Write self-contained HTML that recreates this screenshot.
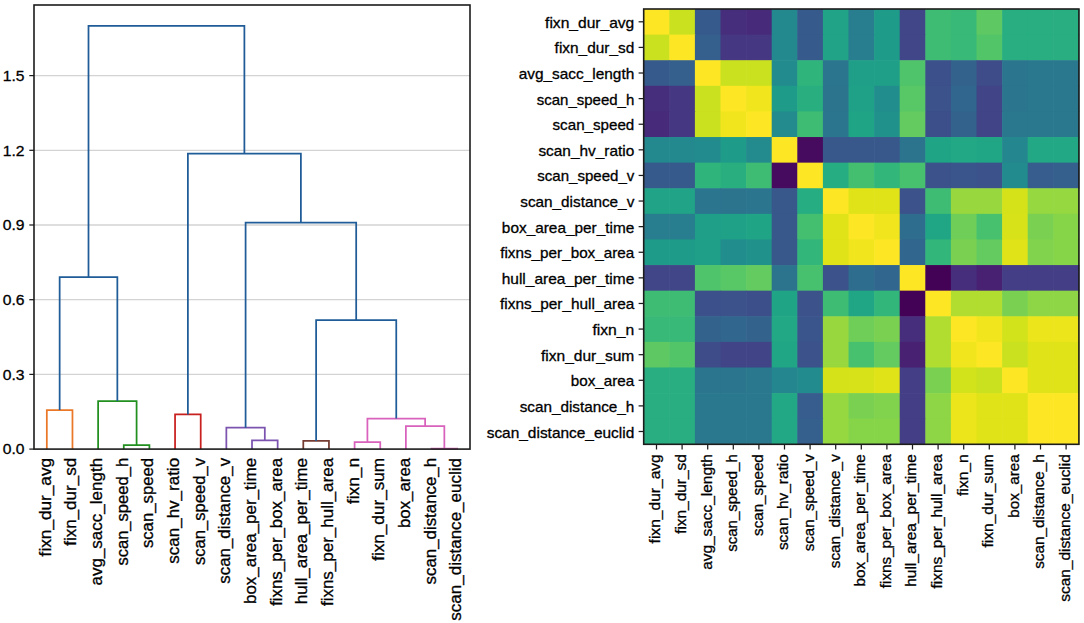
<!DOCTYPE html>
<html><head><meta charset="utf-8"><title>Dendrogram and correlation heatmap</title>
<style>
html,body{margin:0;padding:0;background:#fff;width:1084px;height:623px;overflow:hidden}
svg text{font-family:"Liberation Sans", sans-serif;fill:#000;stroke:#000;stroke-width:0.3px}
</style></head><body>
<svg width="1084" height="623" viewBox="0 0 1084 623" style="display:block">
<rect width="1084" height="623" fill="#fff"/>
<line x1="34.0" y1="374.40" x2="470.0" y2="374.40" stroke="#d3d3d3" stroke-width="1.3"/>
<line x1="34.0" y1="299.70" x2="470.0" y2="299.70" stroke="#d3d3d3" stroke-width="1.3"/>
<line x1="34.0" y1="225.00" x2="470.0" y2="225.00" stroke="#d3d3d3" stroke-width="1.3"/>
<line x1="34.0" y1="150.30" x2="470.0" y2="150.30" stroke="#d3d3d3" stroke-width="1.3"/>
<line x1="34.0" y1="75.60" x2="470.0" y2="75.60" stroke="#d3d3d3" stroke-width="1.3"/>
<polyline points="46.82,449.10 46.82,410.10 72.47,410.10 72.47,449.10" fill="none" stroke="#ea7828" stroke-width="1.75" stroke-linejoin="miter"/>
<polyline points="123.76,449.10 123.76,445.20 149.41,445.20 149.41,449.10" fill="none" stroke="#22901f" stroke-width="1.75" stroke-linejoin="miter"/>
<polyline points="98.12,449.10 98.12,401.00 136.59,401.00 136.59,445.20" fill="none" stroke="#22901f" stroke-width="1.75" stroke-linejoin="miter"/>
<polyline points="175.06,449.10 175.06,414.40 200.71,414.40 200.71,449.10" fill="none" stroke="#c8201f" stroke-width="1.75" stroke-linejoin="miter"/>
<polyline points="252.00,449.10 252.00,440.40 277.65,440.40 277.65,449.10" fill="none" stroke="#7c54b0" stroke-width="1.75" stroke-linejoin="miter"/>
<polyline points="226.35,449.10 226.35,427.70 264.82,427.70 264.82,440.40" fill="none" stroke="#7c54b0" stroke-width="1.75" stroke-linejoin="miter"/>
<polyline points="303.29,449.10 303.29,440.90 328.94,440.90 328.94,449.10" fill="none" stroke="#743c32" stroke-width="1.75" stroke-linejoin="miter"/>
<polyline points="354.59,449.10 354.59,442.10 380.24,442.10 380.24,449.10" fill="none" stroke="#d862bc" stroke-width="1.75" stroke-linejoin="miter"/>
<polyline points="431.53,449.10 431.53,448.60 457.18,448.60 457.18,449.10" fill="none" stroke="#d862bc" stroke-width="1.75" stroke-linejoin="miter"/>
<polyline points="405.88,449.10 405.88,426.00 444.35,426.00 444.35,448.60" fill="none" stroke="#d862bc" stroke-width="1.75" stroke-linejoin="miter"/>
<polyline points="367.41,442.10 367.41,418.50 425.12,418.50 425.12,426.00" fill="none" stroke="#d862bc" stroke-width="1.75" stroke-linejoin="miter"/>
<polyline points="59.65,410.10 59.65,277.10 117.35,277.10 117.35,401.00" fill="none" stroke="#1f5c98" stroke-width="1.75" stroke-linejoin="miter"/>
<polyline points="316.12,440.90 316.12,320.00 396.26,320.00 396.26,418.50" fill="none" stroke="#1f5c98" stroke-width="1.75" stroke-linejoin="miter"/>
<polyline points="245.59,427.70 245.59,222.60 356.19,222.60 356.19,320.00" fill="none" stroke="#1f5c98" stroke-width="1.75" stroke-linejoin="miter"/>
<polyline points="187.88,414.40 187.88,153.60 300.89,153.60 300.89,222.60" fill="none" stroke="#1f5c98" stroke-width="1.75" stroke-linejoin="miter"/>
<polyline points="88.50,277.10 88.50,25.90 244.39,25.90 244.39,153.60" fill="none" stroke="#1f5c98" stroke-width="1.75" stroke-linejoin="miter"/>
<rect x="34.0" y="5.0" width="436.0" height="444.1" fill="none" stroke="#1c1c1c" stroke-width="1.6"/>
<line x1="29.3" y1="449.10" x2="34.0" y2="449.10" stroke="#1c1c1c" stroke-width="1.25"/>
<text x="24.60" y="454.40" text-anchor="end" font-size="15.4" textLength="21.79" lengthAdjust="spacingAndGlyphs">0.0</text>
<line x1="29.3" y1="374.40" x2="34.0" y2="374.40" stroke="#1c1c1c" stroke-width="1.25"/>
<text x="24.60" y="379.70" text-anchor="end" font-size="15.4" textLength="21.79" lengthAdjust="spacingAndGlyphs">0.3</text>
<line x1="29.3" y1="299.70" x2="34.0" y2="299.70" stroke="#1c1c1c" stroke-width="1.25"/>
<text x="24.60" y="305.00" text-anchor="end" font-size="15.4" textLength="21.79" lengthAdjust="spacingAndGlyphs">0.6</text>
<line x1="29.3" y1="225.00" x2="34.0" y2="225.00" stroke="#1c1c1c" stroke-width="1.25"/>
<text x="24.60" y="230.30" text-anchor="end" font-size="15.4" textLength="21.79" lengthAdjust="spacingAndGlyphs">0.9</text>
<line x1="29.3" y1="150.30" x2="34.0" y2="150.30" stroke="#1c1c1c" stroke-width="1.25"/>
<text x="24.60" y="155.60" text-anchor="end" font-size="15.4" textLength="21.79" lengthAdjust="spacingAndGlyphs">1.2</text>
<line x1="29.3" y1="75.60" x2="34.0" y2="75.60" stroke="#1c1c1c" stroke-width="1.25"/>
<text x="24.60" y="80.90" text-anchor="end" font-size="15.4" textLength="21.79" lengthAdjust="spacingAndGlyphs">1.5</text>
<text transform="translate(50.82,457.90) rotate(-90)" text-anchor="end" font-size="16.4" textLength="98.49" lengthAdjust="spacingAndGlyphs">fixn_dur_avg</text>
<text transform="translate(76.47,457.90) rotate(-90)" text-anchor="end" font-size="16.4" textLength="87.92" lengthAdjust="spacingAndGlyphs">fixn_dur_sd</text>
<text transform="translate(102.12,457.90) rotate(-90)" text-anchor="end" font-size="16.4" textLength="127.62" lengthAdjust="spacingAndGlyphs">avg_sacc_length</text>
<text transform="translate(127.76,457.90) rotate(-90)" text-anchor="end" font-size="16.4" textLength="107.72" lengthAdjust="spacingAndGlyphs">scan_speed_h</text>
<text transform="translate(153.41,457.90) rotate(-90)" text-anchor="end" font-size="16.4" textLength="90.21" lengthAdjust="spacingAndGlyphs">scan_speed</text>
<text transform="translate(179.06,457.90) rotate(-90)" text-anchor="end" font-size="16.4" textLength="105.81" lengthAdjust="spacingAndGlyphs">scan_hv_ratio</text>
<text transform="translate(204.71,457.90) rotate(-90)" text-anchor="end" font-size="16.4" textLength="107.08" lengthAdjust="spacingAndGlyphs">scan_speed_v</text>
<text transform="translate(230.35,457.90) rotate(-90)" text-anchor="end" font-size="16.4" textLength="125.86" lengthAdjust="spacingAndGlyphs">scan_distance_v</text>
<text transform="translate(256.00,457.90) rotate(-90)" text-anchor="end" font-size="16.4" textLength="146.13" lengthAdjust="spacingAndGlyphs">box_area_per_time</text>
<text transform="translate(281.65,457.90) rotate(-90)" text-anchor="end" font-size="16.4" textLength="147.94" lengthAdjust="spacingAndGlyphs">fixns_per_box_area</text>
<text transform="translate(307.29,457.90) rotate(-90)" text-anchor="end" font-size="16.4" textLength="146.37" lengthAdjust="spacingAndGlyphs">hull_area_per_time</text>
<text transform="translate(332.94,457.90) rotate(-90)" text-anchor="end" font-size="16.4" textLength="148.18" lengthAdjust="spacingAndGlyphs">fixns_per_hull_area</text>
<text transform="translate(358.59,457.90) rotate(-90)" text-anchor="end" font-size="16.4" textLength="46.18" lengthAdjust="spacingAndGlyphs">fixn_n</text>
<text transform="translate(384.24,457.90) rotate(-90)" text-anchor="end" font-size="16.4" textLength="102.96" lengthAdjust="spacingAndGlyphs">fixn_dur_sum</text>
<text transform="translate(409.88,457.90) rotate(-90)" text-anchor="end" font-size="16.4" textLength="70.11" lengthAdjust="spacingAndGlyphs">box_area</text>
<text transform="translate(435.53,457.90) rotate(-90)" text-anchor="end" font-size="16.4" textLength="126.51" lengthAdjust="spacingAndGlyphs">scan_distance_h</text>
<text transform="translate(461.18,457.90) rotate(-90)" text-anchor="end" font-size="16.4" textLength="162.91" lengthAdjust="spacingAndGlyphs">scan_distance_euclid</text>
<rect x="643.70" y="9.00" width="26.20" height="26.21" fill="#fde725"/>
<rect x="669.30" y="9.00" width="26.20" height="26.21" fill="#cae11f"/>
<rect x="694.90" y="9.00" width="26.20" height="26.21" fill="#375a8c"/>
<rect x="720.50" y="9.00" width="26.20" height="26.21" fill="#472e7c"/>
<rect x="746.10" y="9.00" width="26.20" height="26.21" fill="#472a7a"/>
<rect x="771.70" y="9.00" width="26.20" height="26.21" fill="#23898e"/>
<rect x="797.30" y="9.00" width="26.20" height="26.21" fill="#375a8c"/>
<rect x="822.90" y="9.00" width="26.20" height="26.21" fill="#20a386"/>
<rect x="848.50" y="9.00" width="26.20" height="26.21" fill="#287d8e"/>
<rect x="874.10" y="9.00" width="26.20" height="26.21" fill="#1e9c89"/>
<rect x="899.70" y="9.00" width="26.20" height="26.21" fill="#404688"/>
<rect x="925.30" y="9.00" width="26.20" height="26.21" fill="#3fbc73"/>
<rect x="950.90" y="9.00" width="26.20" height="26.21" fill="#38b977"/>
<rect x="976.50" y="9.00" width="26.20" height="26.21" fill="#5ec962"/>
<rect x="1002.10" y="9.00" width="26.20" height="26.21" fill="#28ae80"/>
<rect x="1027.70" y="9.00" width="26.20" height="26.21" fill="#28ae80"/>
<rect x="1053.30" y="9.00" width="26.20" height="26.21" fill="#28ae80"/>
<rect x="643.70" y="34.61" width="26.20" height="26.21" fill="#cae11f"/>
<rect x="669.30" y="34.61" width="26.20" height="26.21" fill="#fde725"/>
<rect x="694.90" y="34.61" width="26.20" height="26.21" fill="#355f8d"/>
<rect x="720.50" y="34.61" width="26.20" height="26.21" fill="#453781"/>
<rect x="746.10" y="34.61" width="26.20" height="26.21" fill="#453781"/>
<rect x="771.70" y="34.61" width="26.20" height="26.21" fill="#23898e"/>
<rect x="797.30" y="34.61" width="26.20" height="26.21" fill="#375a8c"/>
<rect x="822.90" y="34.61" width="26.20" height="26.21" fill="#20a386"/>
<rect x="848.50" y="34.61" width="26.20" height="26.21" fill="#287d8e"/>
<rect x="874.10" y="34.61" width="26.20" height="26.21" fill="#1e9c89"/>
<rect x="899.70" y="34.61" width="26.20" height="26.21" fill="#404688"/>
<rect x="925.30" y="34.61" width="26.20" height="26.21" fill="#3fbc73"/>
<rect x="950.90" y="34.61" width="26.20" height="26.21" fill="#38b977"/>
<rect x="976.50" y="34.61" width="26.20" height="26.21" fill="#52c569"/>
<rect x="1002.10" y="34.61" width="26.20" height="26.21" fill="#28ae80"/>
<rect x="1027.70" y="34.61" width="26.20" height="26.21" fill="#28ae80"/>
<rect x="1053.30" y="34.61" width="26.20" height="26.21" fill="#28ae80"/>
<rect x="643.70" y="60.21" width="26.20" height="26.21" fill="#375a8c"/>
<rect x="669.30" y="60.21" width="26.20" height="26.21" fill="#355f8d"/>
<rect x="694.90" y="60.21" width="26.20" height="26.21" fill="#fde725"/>
<rect x="720.50" y="60.21" width="26.20" height="26.21" fill="#cae11f"/>
<rect x="746.10" y="60.21" width="26.20" height="26.21" fill="#cae11f"/>
<rect x="771.70" y="60.21" width="26.20" height="26.21" fill="#228b8d"/>
<rect x="797.30" y="60.21" width="26.20" height="26.21" fill="#2fb47c"/>
<rect x="822.90" y="60.21" width="26.20" height="26.21" fill="#2b758e"/>
<rect x="848.50" y="60.21" width="26.20" height="26.21" fill="#1f9f88"/>
<rect x="874.10" y="60.21" width="26.20" height="26.21" fill="#1f9f88"/>
<rect x="899.70" y="60.21" width="26.20" height="26.21" fill="#50c46a"/>
<rect x="925.30" y="60.21" width="26.20" height="26.21" fill="#3c508b"/>
<rect x="950.90" y="60.21" width="26.20" height="26.21" fill="#33638d"/>
<rect x="976.50" y="60.21" width="26.20" height="26.21" fill="#3e4c8a"/>
<rect x="1002.10" y="60.21" width="26.20" height="26.21" fill="#2b758e"/>
<rect x="1027.70" y="60.21" width="26.20" height="26.21" fill="#2a788e"/>
<rect x="1053.30" y="60.21" width="26.20" height="26.21" fill="#2a788e"/>
<rect x="643.70" y="85.82" width="26.20" height="26.21" fill="#472e7c"/>
<rect x="669.30" y="85.82" width="26.20" height="26.21" fill="#453781"/>
<rect x="694.90" y="85.82" width="26.20" height="26.21" fill="#cae11f"/>
<rect x="720.50" y="85.82" width="26.20" height="26.21" fill="#fde725"/>
<rect x="746.10" y="85.82" width="26.20" height="26.21" fill="#f1e51d"/>
<rect x="771.70" y="85.82" width="26.20" height="26.21" fill="#1e9c89"/>
<rect x="797.30" y="85.82" width="26.20" height="26.21" fill="#29af7f"/>
<rect x="822.90" y="85.82" width="26.20" height="26.21" fill="#2c738e"/>
<rect x="848.50" y="85.82" width="26.20" height="26.21" fill="#1fa188"/>
<rect x="874.10" y="85.82" width="26.20" height="26.21" fill="#218e8d"/>
<rect x="899.70" y="85.82" width="26.20" height="26.21" fill="#58c765"/>
<rect x="925.30" y="85.82" width="26.20" height="26.21" fill="#3b528b"/>
<rect x="950.90" y="85.82" width="26.20" height="26.21" fill="#31678e"/>
<rect x="976.50" y="85.82" width="26.20" height="26.21" fill="#414487"/>
<rect x="1002.10" y="85.82" width="26.20" height="26.21" fill="#2b758e"/>
<rect x="1027.70" y="85.82" width="26.20" height="26.21" fill="#2a788e"/>
<rect x="1053.30" y="85.82" width="26.20" height="26.21" fill="#2a788e"/>
<rect x="643.70" y="111.42" width="26.20" height="26.21" fill="#472a7a"/>
<rect x="669.30" y="111.42" width="26.20" height="26.21" fill="#453781"/>
<rect x="694.90" y="111.42" width="26.20" height="26.21" fill="#cae11f"/>
<rect x="720.50" y="111.42" width="26.20" height="26.21" fill="#f1e51d"/>
<rect x="746.10" y="111.42" width="26.20" height="26.21" fill="#fde725"/>
<rect x="771.70" y="111.42" width="26.20" height="26.21" fill="#238a8d"/>
<rect x="797.30" y="111.42" width="26.20" height="26.21" fill="#3fbc73"/>
<rect x="822.90" y="111.42" width="26.20" height="26.21" fill="#2b758e"/>
<rect x="848.50" y="111.42" width="26.20" height="26.21" fill="#20a486"/>
<rect x="874.10" y="111.42" width="26.20" height="26.21" fill="#21918c"/>
<rect x="899.70" y="111.42" width="26.20" height="26.21" fill="#63cb5f"/>
<rect x="925.30" y="111.42" width="26.20" height="26.21" fill="#3c4f8a"/>
<rect x="950.90" y="111.42" width="26.20" height="26.21" fill="#33638d"/>
<rect x="976.50" y="111.42" width="26.20" height="26.21" fill="#414487"/>
<rect x="1002.10" y="111.42" width="26.20" height="26.21" fill="#2a788e"/>
<rect x="1027.70" y="111.42" width="26.20" height="26.21" fill="#2a788e"/>
<rect x="1053.30" y="111.42" width="26.20" height="26.21" fill="#2a788e"/>
<rect x="643.70" y="137.03" width="26.20" height="26.21" fill="#23898e"/>
<rect x="669.30" y="137.03" width="26.20" height="26.21" fill="#23898e"/>
<rect x="694.90" y="137.03" width="26.20" height="26.21" fill="#228b8d"/>
<rect x="720.50" y="137.03" width="26.20" height="26.21" fill="#1e9c89"/>
<rect x="746.10" y="137.03" width="26.20" height="26.21" fill="#238a8d"/>
<rect x="771.70" y="137.03" width="26.20" height="26.21" fill="#fde725"/>
<rect x="797.30" y="137.03" width="26.20" height="26.21" fill="#460b5e"/>
<rect x="822.90" y="137.03" width="26.20" height="26.21" fill="#38588c"/>
<rect x="848.50" y="137.03" width="26.20" height="26.21" fill="#38588c"/>
<rect x="874.10" y="137.03" width="26.20" height="26.21" fill="#38588c"/>
<rect x="899.70" y="137.03" width="26.20" height="26.21" fill="#2c738e"/>
<rect x="925.30" y="137.03" width="26.20" height="26.21" fill="#20a486"/>
<rect x="950.90" y="137.03" width="26.20" height="26.21" fill="#22a884"/>
<rect x="976.50" y="137.03" width="26.20" height="26.21" fill="#21a685"/>
<rect x="1002.10" y="137.03" width="26.20" height="26.21" fill="#24868e"/>
<rect x="1027.70" y="137.03" width="26.20" height="26.21" fill="#22a884"/>
<rect x="1053.30" y="137.03" width="26.20" height="26.21" fill="#22a884"/>
<rect x="643.70" y="162.64" width="26.20" height="26.21" fill="#375a8c"/>
<rect x="669.30" y="162.64" width="26.20" height="26.21" fill="#375a8c"/>
<rect x="694.90" y="162.64" width="26.20" height="26.21" fill="#2fb47c"/>
<rect x="720.50" y="162.64" width="26.20" height="26.21" fill="#29af7f"/>
<rect x="746.10" y="162.64" width="26.20" height="26.21" fill="#3fbc73"/>
<rect x="771.70" y="162.64" width="26.20" height="26.21" fill="#460b5e"/>
<rect x="797.30" y="162.64" width="26.20" height="26.21" fill="#fde725"/>
<rect x="822.90" y="162.64" width="26.20" height="26.21" fill="#26ad81"/>
<rect x="848.50" y="162.64" width="26.20" height="26.21" fill="#44bf70"/>
<rect x="874.10" y="162.64" width="26.20" height="26.21" fill="#32b67a"/>
<rect x="899.70" y="162.64" width="26.20" height="26.21" fill="#48c16e"/>
<rect x="925.30" y="162.64" width="26.20" height="26.21" fill="#3b528b"/>
<rect x="950.90" y="162.64" width="26.20" height="26.21" fill="#3a548c"/>
<rect x="976.50" y="162.64" width="26.20" height="26.21" fill="#3b528b"/>
<rect x="1002.10" y="162.64" width="26.20" height="26.21" fill="#228b8d"/>
<rect x="1027.70" y="162.64" width="26.20" height="26.21" fill="#365d8d"/>
<rect x="1053.30" y="162.64" width="26.20" height="26.21" fill="#355f8d"/>
<rect x="643.70" y="188.24" width="26.20" height="26.21" fill="#20a386"/>
<rect x="669.30" y="188.24" width="26.20" height="26.21" fill="#20a386"/>
<rect x="694.90" y="188.24" width="26.20" height="26.21" fill="#2b758e"/>
<rect x="720.50" y="188.24" width="26.20" height="26.21" fill="#2c738e"/>
<rect x="746.10" y="188.24" width="26.20" height="26.21" fill="#2b758e"/>
<rect x="771.70" y="188.24" width="26.20" height="26.21" fill="#38588c"/>
<rect x="797.30" y="188.24" width="26.20" height="26.21" fill="#26ad81"/>
<rect x="822.90" y="188.24" width="26.20" height="26.21" fill="#fde725"/>
<rect x="848.50" y="188.24" width="26.20" height="26.21" fill="#dfe318"/>
<rect x="874.10" y="188.24" width="26.20" height="26.21" fill="#dfe318"/>
<rect x="899.70" y="188.24" width="26.20" height="26.21" fill="#3b528b"/>
<rect x="925.30" y="188.24" width="26.20" height="26.21" fill="#3fbc73"/>
<rect x="950.90" y="188.24" width="26.20" height="26.21" fill="#98d83e"/>
<rect x="976.50" y="188.24" width="26.20" height="26.21" fill="#98d83e"/>
<rect x="1002.10" y="188.24" width="26.20" height="26.21" fill="#d5e21a"/>
<rect x="1027.70" y="188.24" width="26.20" height="26.21" fill="#95d840"/>
<rect x="1053.30" y="188.24" width="26.20" height="26.21" fill="#95d840"/>
<rect x="643.70" y="213.85" width="26.20" height="26.21" fill="#287d8e"/>
<rect x="669.30" y="213.85" width="26.20" height="26.21" fill="#287d8e"/>
<rect x="694.90" y="213.85" width="26.20" height="26.21" fill="#1f9f88"/>
<rect x="720.50" y="213.85" width="26.20" height="26.21" fill="#1fa188"/>
<rect x="746.10" y="213.85" width="26.20" height="26.21" fill="#20a486"/>
<rect x="771.70" y="213.85" width="26.20" height="26.21" fill="#38588c"/>
<rect x="797.30" y="213.85" width="26.20" height="26.21" fill="#44bf70"/>
<rect x="822.90" y="213.85" width="26.20" height="26.21" fill="#dfe318"/>
<rect x="848.50" y="213.85" width="26.20" height="26.21" fill="#fde725"/>
<rect x="874.10" y="213.85" width="26.20" height="26.21" fill="#f1e51d"/>
<rect x="899.70" y="213.85" width="26.20" height="26.21" fill="#2e6d8e"/>
<rect x="925.30" y="213.85" width="26.20" height="26.21" fill="#21a685"/>
<rect x="950.90" y="213.85" width="26.20" height="26.21" fill="#6ece58"/>
<rect x="976.50" y="213.85" width="26.20" height="26.21" fill="#48c16e"/>
<rect x="1002.10" y="213.85" width="26.20" height="26.21" fill="#d8e219"/>
<rect x="1027.70" y="213.85" width="26.20" height="26.21" fill="#7ad151"/>
<rect x="1053.30" y="213.85" width="26.20" height="26.21" fill="#86d549"/>
<rect x="643.70" y="239.45" width="26.20" height="26.21" fill="#1e9c89"/>
<rect x="669.30" y="239.45" width="26.20" height="26.21" fill="#1e9c89"/>
<rect x="694.90" y="239.45" width="26.20" height="26.21" fill="#1f9f88"/>
<rect x="720.50" y="239.45" width="26.20" height="26.21" fill="#218e8d"/>
<rect x="746.10" y="239.45" width="26.20" height="26.21" fill="#21918c"/>
<rect x="771.70" y="239.45" width="26.20" height="26.21" fill="#38588c"/>
<rect x="797.30" y="239.45" width="26.20" height="26.21" fill="#32b67a"/>
<rect x="822.90" y="239.45" width="26.20" height="26.21" fill="#dfe318"/>
<rect x="848.50" y="239.45" width="26.20" height="26.21" fill="#f1e51d"/>
<rect x="874.10" y="239.45" width="26.20" height="26.21" fill="#fde725"/>
<rect x="899.70" y="239.45" width="26.20" height="26.21" fill="#31668e"/>
<rect x="925.30" y="239.45" width="26.20" height="26.21" fill="#32b67a"/>
<rect x="950.90" y="239.45" width="26.20" height="26.21" fill="#7ad151"/>
<rect x="976.50" y="239.45" width="26.20" height="26.21" fill="#63cb5f"/>
<rect x="1002.10" y="239.45" width="26.20" height="26.21" fill="#dfe318"/>
<rect x="1027.70" y="239.45" width="26.20" height="26.21" fill="#81d34d"/>
<rect x="1053.30" y="239.45" width="26.20" height="26.21" fill="#86d549"/>
<rect x="643.70" y="265.06" width="26.20" height="26.21" fill="#404688"/>
<rect x="669.30" y="265.06" width="26.20" height="26.21" fill="#404688"/>
<rect x="694.90" y="265.06" width="26.20" height="26.21" fill="#50c46a"/>
<rect x="720.50" y="265.06" width="26.20" height="26.21" fill="#58c765"/>
<rect x="746.10" y="265.06" width="26.20" height="26.21" fill="#63cb5f"/>
<rect x="771.70" y="265.06" width="26.20" height="26.21" fill="#2c738e"/>
<rect x="797.30" y="265.06" width="26.20" height="26.21" fill="#48c16e"/>
<rect x="822.90" y="265.06" width="26.20" height="26.21" fill="#3b528b"/>
<rect x="848.50" y="265.06" width="26.20" height="26.21" fill="#2e6d8e"/>
<rect x="874.10" y="265.06" width="26.20" height="26.21" fill="#31668e"/>
<rect x="899.70" y="265.06" width="26.20" height="26.21" fill="#fde725"/>
<rect x="925.30" y="265.06" width="26.20" height="26.21" fill="#440256"/>
<rect x="950.90" y="265.06" width="26.20" height="26.21" fill="#472e7c"/>
<rect x="976.50" y="265.06" width="26.20" height="26.21" fill="#482173"/>
<rect x="1002.10" y="265.06" width="26.20" height="26.21" fill="#433e85"/>
<rect x="1027.70" y="265.06" width="26.20" height="26.21" fill="#433e85"/>
<rect x="1053.30" y="265.06" width="26.20" height="26.21" fill="#433e85"/>
<rect x="643.70" y="290.66" width="26.20" height="26.21" fill="#3fbc73"/>
<rect x="669.30" y="290.66" width="26.20" height="26.21" fill="#3fbc73"/>
<rect x="694.90" y="290.66" width="26.20" height="26.21" fill="#3c508b"/>
<rect x="720.50" y="290.66" width="26.20" height="26.21" fill="#3b528b"/>
<rect x="746.10" y="290.66" width="26.20" height="26.21" fill="#3c4f8a"/>
<rect x="771.70" y="290.66" width="26.20" height="26.21" fill="#20a486"/>
<rect x="797.30" y="290.66" width="26.20" height="26.21" fill="#3b528b"/>
<rect x="822.90" y="290.66" width="26.20" height="26.21" fill="#3fbc73"/>
<rect x="848.50" y="290.66" width="26.20" height="26.21" fill="#21a685"/>
<rect x="874.10" y="290.66" width="26.20" height="26.21" fill="#32b67a"/>
<rect x="899.70" y="290.66" width="26.20" height="26.21" fill="#440256"/>
<rect x="925.30" y="290.66" width="26.20" height="26.21" fill="#fde725"/>
<rect x="950.90" y="290.66" width="26.20" height="26.21" fill="#b0dd2f"/>
<rect x="976.50" y="290.66" width="26.20" height="26.21" fill="#b0dd2f"/>
<rect x="1002.10" y="290.66" width="26.20" height="26.21" fill="#7ad151"/>
<rect x="1027.70" y="290.66" width="26.20" height="26.21" fill="#8ed645"/>
<rect x="1053.30" y="290.66" width="26.20" height="26.21" fill="#8ed645"/>
<rect x="643.70" y="316.27" width="26.20" height="26.21" fill="#38b977"/>
<rect x="669.30" y="316.27" width="26.20" height="26.21" fill="#38b977"/>
<rect x="694.90" y="316.27" width="26.20" height="26.21" fill="#33638d"/>
<rect x="720.50" y="316.27" width="26.20" height="26.21" fill="#31678e"/>
<rect x="746.10" y="316.27" width="26.20" height="26.21" fill="#33638d"/>
<rect x="771.70" y="316.27" width="26.20" height="26.21" fill="#22a884"/>
<rect x="797.30" y="316.27" width="26.20" height="26.21" fill="#3a548c"/>
<rect x="822.90" y="316.27" width="26.20" height="26.21" fill="#98d83e"/>
<rect x="848.50" y="316.27" width="26.20" height="26.21" fill="#6ece58"/>
<rect x="874.10" y="316.27" width="26.20" height="26.21" fill="#7ad151"/>
<rect x="899.70" y="316.27" width="26.20" height="26.21" fill="#472e7c"/>
<rect x="925.30" y="316.27" width="26.20" height="26.21" fill="#b0dd2f"/>
<rect x="950.90" y="316.27" width="26.20" height="26.21" fill="#fde725"/>
<rect x="976.50" y="316.27" width="26.20" height="26.21" fill="#f1e51d"/>
<rect x="1002.10" y="316.27" width="26.20" height="26.21" fill="#d2e21b"/>
<rect x="1027.70" y="316.27" width="26.20" height="26.21" fill="#ece51b"/>
<rect x="1053.30" y="316.27" width="26.20" height="26.21" fill="#ece51b"/>
<rect x="643.70" y="341.88" width="26.20" height="26.21" fill="#5ec962"/>
<rect x="669.30" y="341.88" width="26.20" height="26.21" fill="#52c569"/>
<rect x="694.90" y="341.88" width="26.20" height="26.21" fill="#3e4c8a"/>
<rect x="720.50" y="341.88" width="26.20" height="26.21" fill="#414487"/>
<rect x="746.10" y="341.88" width="26.20" height="26.21" fill="#414487"/>
<rect x="771.70" y="341.88" width="26.20" height="26.21" fill="#21a685"/>
<rect x="797.30" y="341.88" width="26.20" height="26.21" fill="#3b528b"/>
<rect x="822.90" y="341.88" width="26.20" height="26.21" fill="#98d83e"/>
<rect x="848.50" y="341.88" width="26.20" height="26.21" fill="#48c16e"/>
<rect x="874.10" y="341.88" width="26.20" height="26.21" fill="#63cb5f"/>
<rect x="899.70" y="341.88" width="26.20" height="26.21" fill="#482173"/>
<rect x="925.30" y="341.88" width="26.20" height="26.21" fill="#b0dd2f"/>
<rect x="950.90" y="341.88" width="26.20" height="26.21" fill="#f1e51d"/>
<rect x="976.50" y="341.88" width="26.20" height="26.21" fill="#fde725"/>
<rect x="1002.10" y="341.88" width="26.20" height="26.21" fill="#cae11f"/>
<rect x="1027.70" y="341.88" width="26.20" height="26.21" fill="#dfe318"/>
<rect x="1053.30" y="341.88" width="26.20" height="26.21" fill="#dfe318"/>
<rect x="643.70" y="367.48" width="26.20" height="26.21" fill="#28ae80"/>
<rect x="669.30" y="367.48" width="26.20" height="26.21" fill="#28ae80"/>
<rect x="694.90" y="367.48" width="26.20" height="26.21" fill="#2b758e"/>
<rect x="720.50" y="367.48" width="26.20" height="26.21" fill="#2b758e"/>
<rect x="746.10" y="367.48" width="26.20" height="26.21" fill="#2a788e"/>
<rect x="771.70" y="367.48" width="26.20" height="26.21" fill="#24868e"/>
<rect x="797.30" y="367.48" width="26.20" height="26.21" fill="#228b8d"/>
<rect x="822.90" y="367.48" width="26.20" height="26.21" fill="#d5e21a"/>
<rect x="848.50" y="367.48" width="26.20" height="26.21" fill="#d8e219"/>
<rect x="874.10" y="367.48" width="26.20" height="26.21" fill="#dfe318"/>
<rect x="899.70" y="367.48" width="26.20" height="26.21" fill="#433e85"/>
<rect x="925.30" y="367.48" width="26.20" height="26.21" fill="#7ad151"/>
<rect x="950.90" y="367.48" width="26.20" height="26.21" fill="#d2e21b"/>
<rect x="976.50" y="367.48" width="26.20" height="26.21" fill="#cae11f"/>
<rect x="1002.10" y="367.48" width="26.20" height="26.21" fill="#fde725"/>
<rect x="1027.70" y="367.48" width="26.20" height="26.21" fill="#dfe318"/>
<rect x="1053.30" y="367.48" width="26.20" height="26.21" fill="#dfe318"/>
<rect x="643.70" y="393.09" width="26.20" height="26.21" fill="#28ae80"/>
<rect x="669.30" y="393.09" width="26.20" height="26.21" fill="#28ae80"/>
<rect x="694.90" y="393.09" width="26.20" height="26.21" fill="#2a788e"/>
<rect x="720.50" y="393.09" width="26.20" height="26.21" fill="#2a788e"/>
<rect x="746.10" y="393.09" width="26.20" height="26.21" fill="#2a788e"/>
<rect x="771.70" y="393.09" width="26.20" height="26.21" fill="#22a884"/>
<rect x="797.30" y="393.09" width="26.20" height="26.21" fill="#365d8d"/>
<rect x="822.90" y="393.09" width="26.20" height="26.21" fill="#95d840"/>
<rect x="848.50" y="393.09" width="26.20" height="26.21" fill="#7ad151"/>
<rect x="874.10" y="393.09" width="26.20" height="26.21" fill="#81d34d"/>
<rect x="899.70" y="393.09" width="26.20" height="26.21" fill="#433e85"/>
<rect x="925.30" y="393.09" width="26.20" height="26.21" fill="#8ed645"/>
<rect x="950.90" y="393.09" width="26.20" height="26.21" fill="#ece51b"/>
<rect x="976.50" y="393.09" width="26.20" height="26.21" fill="#dfe318"/>
<rect x="1002.10" y="393.09" width="26.20" height="26.21" fill="#dfe318"/>
<rect x="1027.70" y="393.09" width="26.20" height="26.21" fill="#fde725"/>
<rect x="1053.30" y="393.09" width="26.20" height="26.21" fill="#fde725"/>
<rect x="643.70" y="418.69" width="26.20" height="26.21" fill="#28ae80"/>
<rect x="669.30" y="418.69" width="26.20" height="26.21" fill="#28ae80"/>
<rect x="694.90" y="418.69" width="26.20" height="26.21" fill="#2a788e"/>
<rect x="720.50" y="418.69" width="26.20" height="26.21" fill="#2a788e"/>
<rect x="746.10" y="418.69" width="26.20" height="26.21" fill="#2a788e"/>
<rect x="771.70" y="418.69" width="26.20" height="26.21" fill="#22a884"/>
<rect x="797.30" y="418.69" width="26.20" height="26.21" fill="#355f8d"/>
<rect x="822.90" y="418.69" width="26.20" height="26.21" fill="#95d840"/>
<rect x="848.50" y="418.69" width="26.20" height="26.21" fill="#86d549"/>
<rect x="874.10" y="418.69" width="26.20" height="26.21" fill="#86d549"/>
<rect x="899.70" y="418.69" width="26.20" height="26.21" fill="#433e85"/>
<rect x="925.30" y="418.69" width="26.20" height="26.21" fill="#8ed645"/>
<rect x="950.90" y="418.69" width="26.20" height="26.21" fill="#ece51b"/>
<rect x="976.50" y="418.69" width="26.20" height="26.21" fill="#dfe318"/>
<rect x="1002.10" y="418.69" width="26.20" height="26.21" fill="#dfe318"/>
<rect x="1027.70" y="418.69" width="26.20" height="26.21" fill="#fde725"/>
<rect x="1053.30" y="418.69" width="26.20" height="26.21" fill="#fde725"/>
<rect x="643.7" y="9.0" width="435.20" height="435.30" fill="none" stroke="#1c1c1c" stroke-width="1.6"/>
<line x1="638.6" y1="21.80" x2="643.7" y2="21.80" stroke="#1c1c1c" stroke-width="1.25"/>
<text x="634.3" y="27.80" text-anchor="end" font-size="15.0" textLength="89.25" lengthAdjust="spacingAndGlyphs">fixn_dur_avg</text>
<line x1="638.6" y1="47.41" x2="643.7" y2="47.41" stroke="#1c1c1c" stroke-width="1.25"/>
<text x="634.3" y="53.41" text-anchor="end" font-size="15.0" textLength="79.67" lengthAdjust="spacingAndGlyphs">fixn_dur_sd</text>
<line x1="638.6" y1="73.01" x2="643.7" y2="73.01" stroke="#1c1c1c" stroke-width="1.25"/>
<text x="634.3" y="79.01" text-anchor="end" font-size="15.0" textLength="115.65" lengthAdjust="spacingAndGlyphs">avg_sacc_length</text>
<line x1="638.6" y1="98.62" x2="643.7" y2="98.62" stroke="#1c1c1c" stroke-width="1.25"/>
<text x="634.3" y="104.62" text-anchor="end" font-size="15.0" textLength="97.61" lengthAdjust="spacingAndGlyphs">scan_speed_h</text>
<line x1="638.6" y1="124.23" x2="643.7" y2="124.23" stroke="#1c1c1c" stroke-width="1.25"/>
<text x="634.3" y="130.23" text-anchor="end" font-size="15.0" textLength="81.74" lengthAdjust="spacingAndGlyphs">scan_speed</text>
<line x1="638.6" y1="149.83" x2="643.7" y2="149.83" stroke="#1c1c1c" stroke-width="1.25"/>
<text x="634.3" y="155.83" text-anchor="end" font-size="15.0" textLength="95.88" lengthAdjust="spacingAndGlyphs">scan_hv_ratio</text>
<line x1="638.6" y1="175.44" x2="643.7" y2="175.44" stroke="#1c1c1c" stroke-width="1.25"/>
<text x="634.3" y="181.44" text-anchor="end" font-size="15.0" textLength="97.03" lengthAdjust="spacingAndGlyphs">scan_speed_v</text>
<line x1="638.6" y1="201.04" x2="643.7" y2="201.04" stroke="#1c1c1c" stroke-width="1.25"/>
<text x="634.3" y="207.04" text-anchor="end" font-size="15.0" textLength="114.05" lengthAdjust="spacingAndGlyphs">scan_distance_v</text>
<line x1="638.6" y1="226.65" x2="643.7" y2="226.65" stroke="#1c1c1c" stroke-width="1.25"/>
<text x="634.3" y="232.65" text-anchor="end" font-size="15.0" textLength="132.42" lengthAdjust="spacingAndGlyphs">box_area_per_time</text>
<line x1="638.6" y1="252.26" x2="643.7" y2="252.26" stroke="#1c1c1c" stroke-width="1.25"/>
<text x="634.3" y="258.26" text-anchor="end" font-size="15.0" textLength="134.06" lengthAdjust="spacingAndGlyphs">fixns_per_box_area</text>
<line x1="638.6" y1="277.86" x2="643.7" y2="277.86" stroke="#1c1c1c" stroke-width="1.25"/>
<text x="634.3" y="283.86" text-anchor="end" font-size="15.0" textLength="132.63" lengthAdjust="spacingAndGlyphs">hull_area_per_time</text>
<line x1="638.6" y1="303.47" x2="643.7" y2="303.47" stroke="#1c1c1c" stroke-width="1.25"/>
<text x="634.3" y="309.47" text-anchor="end" font-size="15.0" textLength="134.27" lengthAdjust="spacingAndGlyphs">fixns_per_hull_area</text>
<line x1="638.6" y1="329.07" x2="643.7" y2="329.07" stroke="#1c1c1c" stroke-width="1.25"/>
<text x="634.3" y="335.07" text-anchor="end" font-size="15.0" textLength="41.85" lengthAdjust="spacingAndGlyphs">fixn_n</text>
<line x1="638.6" y1="354.68" x2="643.7" y2="354.68" stroke="#1c1c1c" stroke-width="1.25"/>
<text x="634.3" y="360.68" text-anchor="end" font-size="15.0" textLength="93.29" lengthAdjust="spacingAndGlyphs">fixn_dur_sum</text>
<line x1="638.6" y1="380.29" x2="643.7" y2="380.29" stroke="#1c1c1c" stroke-width="1.25"/>
<text x="634.3" y="386.29" text-anchor="end" font-size="15.0" textLength="63.53" lengthAdjust="spacingAndGlyphs">box_area</text>
<line x1="638.6" y1="405.89" x2="643.7" y2="405.89" stroke="#1c1c1c" stroke-width="1.25"/>
<text x="634.3" y="411.89" text-anchor="end" font-size="15.0" textLength="114.64" lengthAdjust="spacingAndGlyphs">scan_distance_h</text>
<line x1="638.6" y1="431.50" x2="643.7" y2="431.50" stroke="#1c1c1c" stroke-width="1.25"/>
<text x="634.3" y="437.50" text-anchor="end" font-size="15.0" textLength="147.62" lengthAdjust="spacingAndGlyphs">scan_distance_euclid</text>
<line x1="656.50" y1="444.3" x2="656.50" y2="449.50" stroke="#1c1c1c" stroke-width="1.25"/>
<text transform="translate(660.30,454.20) rotate(-90)" text-anchor="end" font-size="15.0" textLength="89.25" lengthAdjust="spacingAndGlyphs">fixn_dur_avg</text>
<line x1="682.10" y1="444.3" x2="682.10" y2="449.50" stroke="#1c1c1c" stroke-width="1.25"/>
<text transform="translate(685.90,454.20) rotate(-90)" text-anchor="end" font-size="15.0" textLength="79.67" lengthAdjust="spacingAndGlyphs">fixn_dur_sd</text>
<line x1="707.70" y1="444.3" x2="707.70" y2="449.50" stroke="#1c1c1c" stroke-width="1.25"/>
<text transform="translate(711.50,454.20) rotate(-90)" text-anchor="end" font-size="15.0" textLength="115.65" lengthAdjust="spacingAndGlyphs">avg_sacc_length</text>
<line x1="733.30" y1="444.3" x2="733.30" y2="449.50" stroke="#1c1c1c" stroke-width="1.25"/>
<text transform="translate(737.10,454.20) rotate(-90)" text-anchor="end" font-size="15.0" textLength="97.61" lengthAdjust="spacingAndGlyphs">scan_speed_h</text>
<line x1="758.90" y1="444.3" x2="758.90" y2="449.50" stroke="#1c1c1c" stroke-width="1.25"/>
<text transform="translate(762.70,454.20) rotate(-90)" text-anchor="end" font-size="15.0" textLength="81.74" lengthAdjust="spacingAndGlyphs">scan_speed</text>
<line x1="784.50" y1="444.3" x2="784.50" y2="449.50" stroke="#1c1c1c" stroke-width="1.25"/>
<text transform="translate(788.30,454.20) rotate(-90)" text-anchor="end" font-size="15.0" textLength="95.88" lengthAdjust="spacingAndGlyphs">scan_hv_ratio</text>
<line x1="810.10" y1="444.3" x2="810.10" y2="449.50" stroke="#1c1c1c" stroke-width="1.25"/>
<text transform="translate(813.90,454.20) rotate(-90)" text-anchor="end" font-size="15.0" textLength="97.03" lengthAdjust="spacingAndGlyphs">scan_speed_v</text>
<line x1="835.70" y1="444.3" x2="835.70" y2="449.50" stroke="#1c1c1c" stroke-width="1.25"/>
<text transform="translate(839.50,454.20) rotate(-90)" text-anchor="end" font-size="15.0" textLength="114.05" lengthAdjust="spacingAndGlyphs">scan_distance_v</text>
<line x1="861.30" y1="444.3" x2="861.30" y2="449.50" stroke="#1c1c1c" stroke-width="1.25"/>
<text transform="translate(865.10,454.20) rotate(-90)" text-anchor="end" font-size="15.0" textLength="132.42" lengthAdjust="spacingAndGlyphs">box_area_per_time</text>
<line x1="886.90" y1="444.3" x2="886.90" y2="449.50" stroke="#1c1c1c" stroke-width="1.25"/>
<text transform="translate(890.70,454.20) rotate(-90)" text-anchor="end" font-size="15.0" textLength="134.06" lengthAdjust="spacingAndGlyphs">fixns_per_box_area</text>
<line x1="912.50" y1="444.3" x2="912.50" y2="449.50" stroke="#1c1c1c" stroke-width="1.25"/>
<text transform="translate(916.30,454.20) rotate(-90)" text-anchor="end" font-size="15.0" textLength="132.63" lengthAdjust="spacingAndGlyphs">hull_area_per_time</text>
<line x1="938.10" y1="444.3" x2="938.10" y2="449.50" stroke="#1c1c1c" stroke-width="1.25"/>
<text transform="translate(941.90,454.20) rotate(-90)" text-anchor="end" font-size="15.0" textLength="134.27" lengthAdjust="spacingAndGlyphs">fixns_per_hull_area</text>
<line x1="963.70" y1="444.3" x2="963.70" y2="449.50" stroke="#1c1c1c" stroke-width="1.25"/>
<text transform="translate(967.50,454.20) rotate(-90)" text-anchor="end" font-size="15.0" textLength="41.85" lengthAdjust="spacingAndGlyphs">fixn_n</text>
<line x1="989.30" y1="444.3" x2="989.30" y2="449.50" stroke="#1c1c1c" stroke-width="1.25"/>
<text transform="translate(993.10,454.20) rotate(-90)" text-anchor="end" font-size="15.0" textLength="93.29" lengthAdjust="spacingAndGlyphs">fixn_dur_sum</text>
<line x1="1014.90" y1="444.3" x2="1014.90" y2="449.50" stroke="#1c1c1c" stroke-width="1.25"/>
<text transform="translate(1018.70,454.20) rotate(-90)" text-anchor="end" font-size="15.0" textLength="63.53" lengthAdjust="spacingAndGlyphs">box_area</text>
<line x1="1040.50" y1="444.3" x2="1040.50" y2="449.50" stroke="#1c1c1c" stroke-width="1.25"/>
<text transform="translate(1044.30,454.20) rotate(-90)" text-anchor="end" font-size="15.0" textLength="114.64" lengthAdjust="spacingAndGlyphs">scan_distance_h</text>
<line x1="1066.10" y1="444.3" x2="1066.10" y2="449.50" stroke="#1c1c1c" stroke-width="1.25"/>
<text transform="translate(1069.90,454.20) rotate(-90)" text-anchor="end" font-size="15.0" textLength="147.62" lengthAdjust="spacingAndGlyphs">scan_distance_euclid</text>
</svg>
</body></html>
